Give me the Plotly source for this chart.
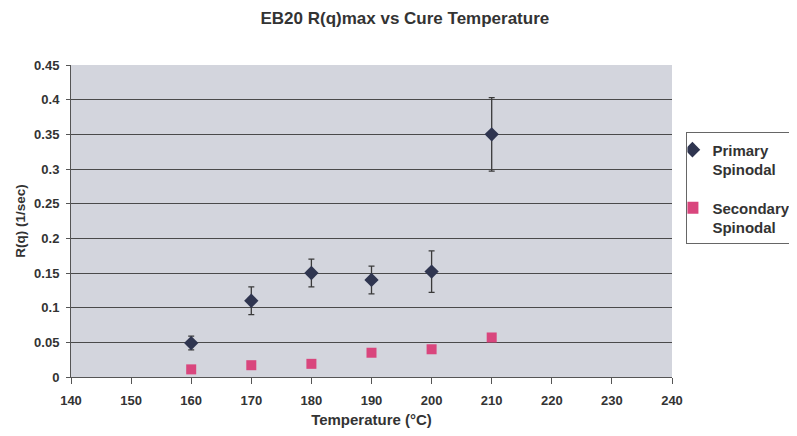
import plotly.graph_objects as go

# data
temps = [160, 170, 180, 190, 200, 210]
primary = [0.049, 0.110, 0.150, 0.140, 0.152, 0.350]
primary_err = [0.010, 0.020, 0.020, 0.020, 0.030, 0.053]
secondary = [0.011, 0.017, 0.019, 0.035, 0.040, 0.057]

font = "Liberation Sans, Arial, sans-serif"
ink = "#333333"

fig = go.Figure()
fig.add_trace(go.Scatter(
    x=temps, y=primary, mode="markers", name="<b>Primary<br>Spinodal</b>",
    legendgroup="primary",
    marker=dict(symbol="diamond", size=11, color="#2f3550"),
    error_y=dict(type="data", array=primary_err, color="#3a3a3a", thickness=1.3, width=3),
))
fig.add_trace(go.Scatter(
    x=temps, y=secondary, mode="markers", name="<b>Secondary<br>Spinodal</b>",
    legendgroup="secondary",
    marker=dict(symbol="square", size=10, color="#d9467d"),
))

# the page puts the figure 8px in from the top-left, so size and margins allow for that
fig.update_layout(
    width=789, height=428,
    margin=dict(l=63, r=125, t=57, b=59, autoexpand=False),
    paper_bgcolor="white", plot_bgcolor="#d3d5dd",
    font=dict(family=font, color=ink, size=12),
    title=dict(text="<b>EB20 R(q)max vs Cure Temperature</b>", x=0.503, xanchor="center",
               y=0.977, yanchor="middle", font=dict(size=17, color="#333")),
    showlegend=True,
    legend=dict(x=1.024, y=0.784, xanchor="left", yanchor="top", valign="top",
                bordercolor="#666", borderwidth=1, bgcolor="white", indentation=-15,
                itemsizing="constant",
                font=dict(size=15, color="#333"), tracegroupgap=16, itemwidth=30),
)
fig.update_xaxes(
    range=[140, 240], dtick=10, showgrid=False, zeroline=False,
    showline=True, linecolor="#555", linewidth=1, ticks="outside", ticklen=6, tickcolor="#555",
    ticklabelstandoff=5,
    tickfont=dict(size=13, weight="bold", color="#333"),
    title=dict(text="<b>Temperature (°C)</b>", font=dict(size=15), standoff=7),
)
fig.update_yaxes(
    range=[0, 0.45], dtick=0.05, showgrid=True, gridcolor="#4a4a4a", gridwidth=1, zeroline=False,
    showline=True, linecolor="#555", linewidth=1, ticks="outside", ticklen=4, tickcolor="#555",
    ticklabelstandoff=4,
    tickfont=dict(size=13, weight="bold", color="#333"),
    title=dict(text="<b>R(q) (1/sec)</b>", font=dict(size=13.5), standoff=5),
    tickformat="~g",
)

fig.write_html("out.html")
